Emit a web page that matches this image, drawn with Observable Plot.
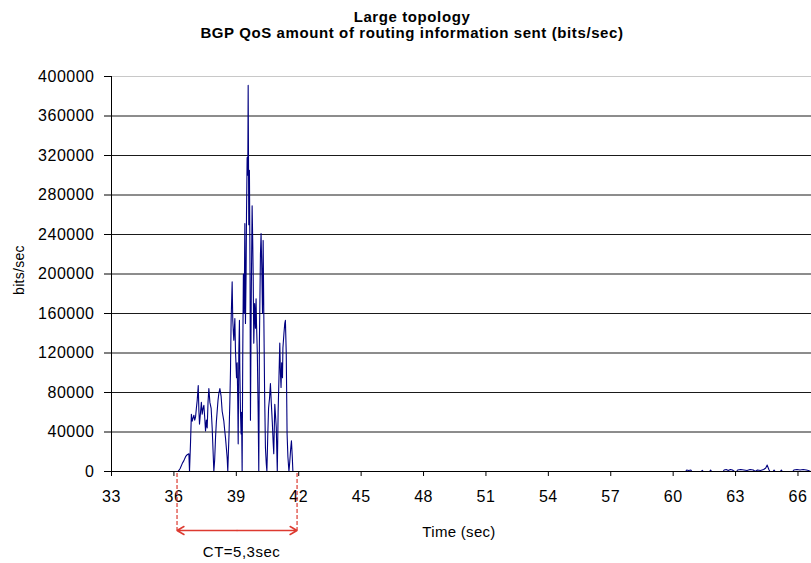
<!DOCTYPE html>
<html>
<head>
<meta charset="utf-8">
<script src="https://cdn.jsdelivr.net/npm/d3@7"></script>
<script src="https://cdn.jsdelivr.net/npm/@observablehq/plot@0.6"></script>
<style>
  html, body { margin: 0; padding: 0; background: #fff; }
  #chart { width: 811px; height: 563px; }
</style>
</head>
<body>
<div id="chart"></div>
<script>
// ---- data ----
const titleLines = ["Large topology", "BGP QoS amount of routing information sent (bits/sec)"];
const yLabel = "bits/sec";
const xLabel = "Time (sec)";
const xTicks = [33, 36, 39, 42, 45, 48, 51, 54, 57, 60, 63, 66];
const yTicks = [0, 40000, 80000, 120000, 160000, 200000, 240000, 280000, 320000, 360000, 400000];

// time (sec) of each sample
const times = [
  36.20, 36.30, 36.40, 36.48, 36.56, 36.64, 36.72, 36.75, 36.80, 36.84,
  36.88, 36.92, 36.96, 37.00, 37.04, 37.08, 37.12, 37.17, 37.20, 37.23,
  37.28, 37.32, 37.36, 37.40, 37.44, 37.48, 37.52, 37.56, 37.60, 37.64,
  37.68, 37.73, 37.79, 37.84, 37.88, 37.92, 37.96, 38.00, 38.04, 38.08,
  38.12, 38.16, 38.21, 38.27, 38.32, 38.36, 38.40, 38.44, 38.48, 38.52,
  38.56, 38.59, 38.62, 38.65, 38.69, 38.72, 38.75, 38.80, 38.83, 38.86,
  38.88, 38.91, 38.93, 38.96, 39.01, 39.04, 39.07, 39.09, 39.12, 39.15,
  39.17, 39.20, 39.23, 39.25, 39.28, 39.31, 39.34, 39.38, 39.41, 39.44,
  39.47, 39.49, 39.52, 39.55, 39.57, 39.60, 39.63, 39.66, 39.68, 39.72,
  39.76, 39.79, 39.81, 39.84, 39.88, 39.92, 39.95, 39.97, 40.01, 40.05,
  40.08, 40.11, 40.16, 40.19, 40.23, 40.26, 40.29, 40.32, 40.36, 40.40,
  40.44, 40.47, 40.51, 40.55, 40.60, 40.64, 40.68, 40.73, 40.77, 40.80,
  40.85, 40.89, 40.92, 40.97, 41.01, 41.05, 41.09, 41.12, 41.15, 41.18,
  41.22, 41.24, 41.29, 41.33, 41.36, 41.40, 41.44, 41.48, 41.53, 41.57,
  41.61, 41.65, 41.69, 41.72,
  60.60, 60.65, 60.75, 60.85, 60.90,
  61.35, 61.40, 61.45, 61.75, 61.80, 61.85,
  62.40, 62.45, 62.55, 62.65, 62.75, 62.85, 62.95,
  63.05, 63.10, 63.25, 63.40, 63.55, 63.70, 63.85, 63.95,
  64.05, 64.20, 64.35, 64.45, 64.52, 64.60, 64.65,
  64.80, 64.85, 64.90, 65.15, 65.20, 65.25,
  65.75, 65.80, 65.95, 66.10, 66.25, 66.40, 66.50, 66.60
];
// bits/sec of each sample
const bits = [
  0, 3000, 8000, 11000, 15000, 17000, 18000, 0, 30000, 58000,
  51000, 54000, 57000, 52000, 55000, 64000, 72000, 87000, 62000, 48000,
  60000, 70000, 58000, 64000, 67000, 55000, 41000, 52000, 44000, 70000,
  84000, 70000, 64000, 44000, 22000, 0, 12000, 34000, 50000, 61000,
  72000, 79000, 84000, 76000, 61000, 56000, 51000, 42000, 34000, 24000,
  14000, 0, 20000, 38000, 71000, 102000, 153000, 192000, 153000, 140000,
  133000, 146000, 155000, 122000, 95000, 110000, 70000, 28000, 120000, 153000,
  102000, 60000, 38000, 60000, 0, 120000, 200000, 160000, 251000, 150000,
  200000, 260000, 318000, 300000, 391000, 250000, 305000, 200000, 52000, 180000,
  269000, 231000, 200000, 130000, 170000, 145000, 175000, 150000, 120000, 60000,
  0, 130000, 220000, 241000, 200000, 160000, 234000, 163000, 80000, 24000,
  8000, 0, 35000, 64000, 75000, 89000, 70000, 50000, 30000, 18000,
  68000, 55000, 45000, 0, 60000, 95000, 130000, 100000, 85000, 110000,
  95000, 125000, 140000, 150000, 153000, 120000, 38500, 15000, 0, 10000,
  22000, 31000, 15000, 0,
  0, 1500, 1000, 1500, 0,
  0, 1200, 0, 0, 1500, 0,
  0, 1500, 2000, 1000, 2000, 1500, 0,
  0, 1500, 2000, 1500, 1000, 2000, 1500, 0,
  1500, 1000, 2000, 3500, 6500, 2000, 0,
  0, 1500, 0, 0, 1500, 0,
  0, 1500, 2000, 1500, 2000, 1500, 1000, 0
];

// annotation: convergence time markers
const ctStart = 36.15;
const ctEnd = 41.92;
const ctText = "CT=5,3sec";

// ---- build chart ----
const data = times.map((t, i) => ({t, v: bits[i]}));
const gridVals = yTicks.filter(d => d > 0 && d < 400000);
const ctMid = (ctStart + ctEnd) / 2;
const red = "#dd3a30";

const chart = Plot.plot({
  width: 811,
  height: 563,
  marginLeft: 111,
  marginRight: 0,
  marginTop: 76,
  marginBottom: 92,
  style: {fontFamily: "'Liberation Sans', Arial, sans-serif", fontSize: "16px", letterSpacing: "0.5px", color: "#000", background: "#fff", overflow: "visible"},
  x: {domain: [33, 66.65]},
  y: {domain: [0, 400000]},
  marks: [
    Plot.ruleY(gridVals, {stroke: "#1a1a1a", strokeWidth: 1}),
    Plot.ruleY([400000], {stroke: "#c8c8c8", strokeWidth: 1}),
    Plot.line(data, {x: "t", y: "v", stroke: "#000080", strokeWidth: 1.1}),
    Plot.ruleY([0], {stroke: "#000", strokeWidth: 1}),
    Plot.ruleX([33], {stroke: "#000", strokeWidth: 1}),
    Plot.axisX({ticks: xTicks, tickSize: 5, tickPadding: 14, label: null, tickFormat: d => String(d)}),
    Plot.axisY({ticks: yTicks, tickSize: 7, tickPadding: 10, label: null, tickFormat: d => String(d)}),
    // annotation
    Plot.ruleX([ctStart, ctEnd], {y1: -2000, y2: -59750, stroke: red, strokeWidth: 1.2, strokeDasharray: "4,2"}),
    Plot.arrow([{a: ctMid, b: ctStart}, {a: ctMid, b: ctEnd}], {x1: "a", x2: "b", y1: -59750, y2: -59750, stroke: red, strokeWidth: 1.5, headLength: 8, bend: 0}),
    Plot.text([ctText], {x: 39.25, y: -81500, text: d => d, fill: "#000", fontSize: 15})
  ]
});

document.getElementById("chart").appendChild(chart);

// titles and axis labels as SVG text
const svg = d3.select(chart);
svg.append("text").attr("x", 412).attr("y", 22).attr("text-anchor", "middle")
  .attr("font-weight", "bold").attr("font-size", 15).attr("letter-spacing", "0.6px").attr("fill", "#000").text(titleLines[0]);
svg.append("text").attr("x", 412).attr("y", 38).attr("text-anchor", "middle")
  .attr("font-weight", "bold").attr("font-size", 15).attr("letter-spacing", "0.6px").attr("fill", "#000").text(titleLines[1]);
svg.append("text").attr("transform", "translate(24,270) rotate(-90)").attr("text-anchor", "middle")
  .attr("font-size", 14).attr("letter-spacing", "0.3px").attr("fill", "#000").text(yLabel);
svg.append("text").attr("x", 459).attr("y", 537).attr("text-anchor", "middle")
  .attr("font-size", 15).attr("letter-spacing", "0.3px").attr("fill", "#000").text(xLabel);
</script>
</body>
</html>
